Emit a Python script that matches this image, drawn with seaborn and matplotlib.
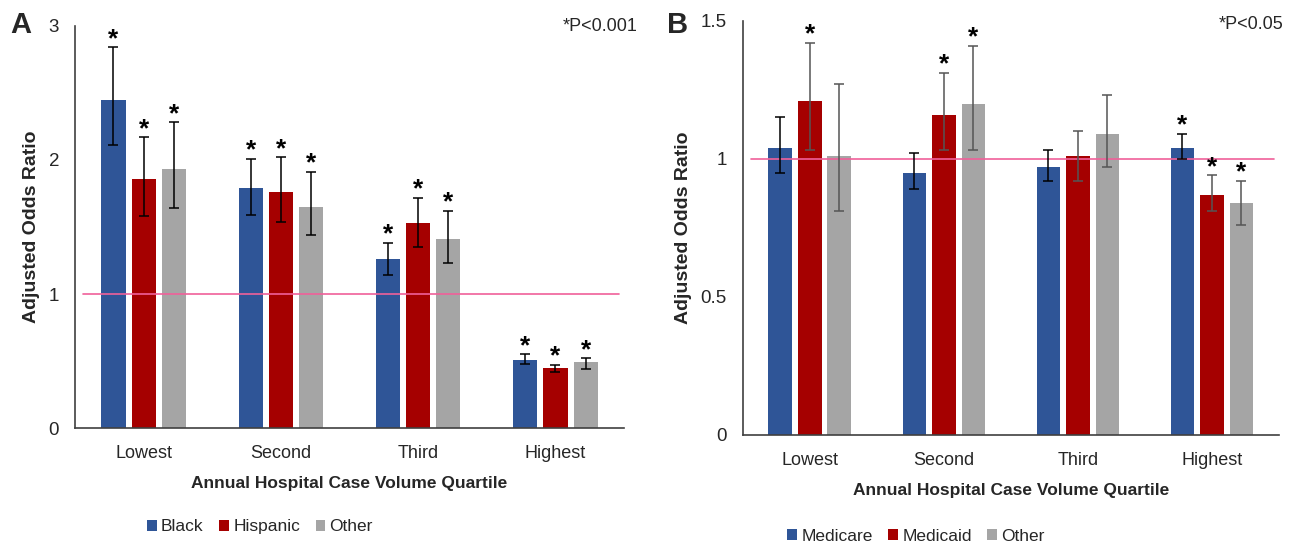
import numpy as np
import pandas as pd
import seaborn as sns
import matplotlib.pyplot as plt
from matplotlib.patches import Patch

# data
quartiles = ['Lowest', 'Second', 'Third', 'Highest']

race_groups = ['Black', 'Hispanic', 'Other']
race_aor = [[2.45, 1.86, 1.93],
            [1.79, 1.76, 1.65],
            [1.26, 1.53, 1.41],
            [0.51, 0.45, 0.49]]
race_lo = [[2.11, 1.58, 1.64],
           [1.59, 1.54, 1.44],
           [1.14, 1.35, 1.23],
           [0.48, 0.42, 0.44]]
race_hi = [[2.84, 2.17, 2.28],
           [2.01, 2.02, 1.91],
           [1.38, 1.72, 1.62],
           [0.55, 0.47, 0.52]]
race_sig = [[1, 1, 1], [1, 1, 1], [1, 1, 1], [1, 1, 1]]

payer_groups = ['Medicare', 'Medicaid', 'Other']
payer_aor = [[1.04, 1.21, 1.01],
             [0.95, 1.16, 1.20],
             [0.97, 1.01, 1.09],
             [1.04, 0.87, 0.84]]
payer_lo = [[0.95, 1.03, 0.81],
            [0.89, 1.03, 1.03],
            [0.92, 0.92, 0.97],
            [1.00, 0.81, 0.76]]
payer_hi = [[1.15, 1.42, 1.27],
            [1.02, 1.31, 1.41],
            [1.03, 1.10, 1.23],
            [1.09, 0.94, 0.92]]
payer_sig = [[0, 1, 0], [0, 1, 1], [0, 0, 0], [1, 1, 1]]

colors = ['#2F5597', '#A50000', '#A5A5A5']

sns.set_style('white')
plt.rcParams['font.family'] = ['Liberation Sans', 'DejaVu Sans']

fig = plt.figure(figsize=(12.91, 5.47), dpi=100)
axA = fig.add_axes([0.0581, 0.2175, 0.4253, 0.735])
axB = fig.add_axes([0.5753, 0.2048, 0.4154, 0.7574])


def make_df(groups, aor, lo, hi, sig):
    rows = []
    for i, q in enumerate(quartiles):
        for j, g in enumerate(groups):
            rows.append(dict(quartile=q, group=g, aor=aor[i][j],
                             lo=lo[i][j], hi=hi[i][j], sig=sig[i][j], gi=j))
    return pd.DataFrame(rows)


def panel(ax, groups, aor, lo, hi, sig, ymax, yticks, ytl, errcols, leg_xy):
    df = make_df(groups, aor, lo, hi, sig)
    sns.barplot(data=df, x='quartile', y='aor', hue='group', order=quartiles,
                hue_order=groups, palette=colors, width=0.66, gap=0.2,
                errorbar=None, saturation=1, linewidth=0, ax=ax)
    bars = [p for p in ax.patches if p.get_height() > 0]
    bars = sorted(bars, key=lambda p: p.get_x())
    for p, (_, r) in zip(bars, df.iterrows()):
        xc = p.get_x() + p.get_width() / 2
        ax.errorbar(xc, r.aor, yerr=[[r.aor - r.lo], [r.hi - r.aor]],
                    fmt='none', ecolor=errcols[r.gi], elinewidth=1.1,
                    capsize=3.5, capthick=1.1)
        if r.sig:
            ax.annotate('*', (xc, r.hi), xytext=(0, 1), textcoords='offset points',
                        ha='center', va='baseline', fontsize=19,
                        fontweight='bold', color='black')
    ax.axhline(1, color='#F0609A', lw=1.2, xmin=0.015, xmax=0.99, zorder=1)
    ax.set_xlim(-0.5, 3.5)
    ax.set_ylim(0, ymax)
    ax.set_yticks(yticks)
    ax.set_yticklabels(ytl)
    sns.despine(ax=ax)
    for s in ['left', 'bottom']:
        ax.spines[s].set_color('#404040')
        ax.spines[s].set_linewidth(1.2)
    ax.tick_params(axis='y', direction='inout', length=9, width=1.1,
                   color='#404040', labelsize=13.5, pad=7, labelcolor='#262626')
    ax.tick_params(axis='x', length=0, labelsize=13, pad=12, labelcolor='#262626')
    ax.set_xlabel('Annual Hospital Case Volume Quartile', fontsize=12.5,
                  fontweight='bold', labelpad=10)
    ax.set_ylabel('Adjusted Odds Ratio', fontsize=14, fontweight='bold', labelpad=6)
    ax.get_legend().remove()
    handles = [Patch(facecolor=c, edgecolor='none') for c in colors]
    fig.legend(handles, groups, loc='center', bbox_to_anchor=leg_xy, ncol=3,
               frameon=False, fontsize=12.5, handlelength=0.55, handleheight=0.55,
               handletextpad=0.25, columnspacing=0.9)
    return ax


panel(axA, race_groups, race_aor, race_lo, race_hi, race_sig, 3,
      [0, 1, 2, 3], ['0', '1', '2', '3'], ['black', 'black', 'black'],
      (0.2014, 0.0366))
panel(axB, payer_groups, payer_aor, payer_lo, payer_hi, payer_sig, 1.5,
      [0, 0.5, 1, 1.5], ['0', '0.5', '1', '1.5'], ['black', '#555555', '#555555'],
      (0.7095, 0.0201))

fig.text(0.008, 0.955, 'A', fontsize=21, fontweight='bold', va='center', ha='left')
fig.text(0.517, 0.955, 'B', fontsize=21, fontweight='bold', va='center', ha='left')
fig.text(0.4935, 0.952, '*P<0.001', fontsize=13, va='center', ha='right', color='#262626')
fig.text(0.9945, 0.955, '*P<0.05', fontsize=13, va='center', ha='right', color='#262626')

fig.savefig('out.png', dpi=100)
